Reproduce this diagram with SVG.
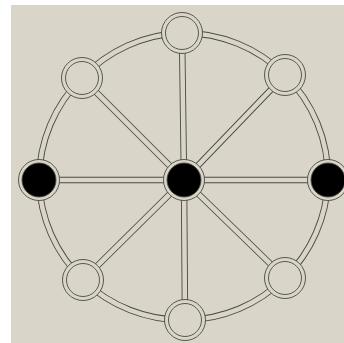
<svg xmlns="http://www.w3.org/2000/svg" width="344" height="343" viewBox="0 0 344 343">
  <style>
    .edge-out { fill: none; stroke: #4a4943; stroke-width: 6.4; stroke-linecap: butt; }
    .edge-in { fill: none; stroke: #dad5c9; stroke-width: 4.6; stroke-linecap: butt; }
    .ring { fill: #dad5c9; stroke: #4a4943; stroke-width: 0.9; }
    .inner { fill: #dad5c9; stroke: #4a4943; stroke-width: 0.9; }
    .black { fill: #000; stroke: #4a4943; stroke-width: 0.9; }
  </style>
  <rect x="0" y="0" width="344" height="343" fill="#ffffff"/>
  <rect x="11" y="5" width="333" height="338" fill="#dad5c9"/>
  <g id="connectors">
    <g class="edge-out">
      <path d="M182,33 A144,144 0 0 1 285,75 A144,144 0 0 1 328,180 A144,144 0 0 1 285,278 A144,144 0 0 1 185,320 A144,144 0 0 1 83,280 A144,144 0 0 1 39,180 A144,144 0 0 1 82,78 A144,144 0 0 1 182,33 Z"/>
      <path d="M184,180 L182,33 M184,180 L285,75 M184,180 L328,180 M184,180 L285,278 M184,180 L185,320 M184,180 L83,280 M184,180 L39,180 M184,180 L82,78"/>
    </g>
    <g class="edge-in">
      <path d="M182,33 A144,144 0 0 1 285,75 A144,144 0 0 1 328,180 A144,144 0 0 1 285,278 A144,144 0 0 1 185,320 A144,144 0 0 1 83,280 A144,144 0 0 1 39,180 A144,144 0 0 1 82,78 A144,144 0 0 1 182,33 Z"/>
      <path d="M184,180 L182,33 M184,180 L285,75 M184,180 L328,180 M184,180 L285,278 M184,180 L185,320 M184,180 L83,280 M184,180 L39,180 M184,180 L82,78"/>
    </g>
  </g>
  <g id="node-center"><circle class="ring" cx="184" cy="180" r="20.5"/><circle class="black" cx="184" cy="180" r="17"/></g>
  <g id="node-top"><circle class="ring" cx="182" cy="33" r="20.5"/><circle class="inner" cx="182" cy="33" r="16.5"/></g>
  <g id="node-top-right"><circle class="ring" cx="285" cy="75" r="20.5"/><circle class="inner" cx="285" cy="75" r="16.5"/></g>
  <g id="node-right"><circle class="ring" cx="328" cy="180" r="20.5"/><circle class="black" cx="328" cy="180" r="17"/></g>
  <g id="node-bottom-right"><circle class="ring" cx="285" cy="278" r="20.5"/><circle class="inner" cx="285" cy="278" r="16.5"/></g>
  <g id="node-bottom"><circle class="ring" cx="185" cy="320" r="20.5"/><circle class="inner" cx="185" cy="320" r="16.5"/></g>
  <g id="node-bottom-left"><circle class="ring" cx="83" cy="280" r="20.5"/><circle class="inner" cx="83" cy="280" r="16.5"/></g>
  <g id="node-left"><circle class="ring" cx="39" cy="180" r="20.5"/><circle class="black" cx="39" cy="180" r="17"/></g>
  <g id="node-top-left"><circle class="ring" cx="82" cy="78" r="20.5"/><circle class="inner" cx="82" cy="78" r="16.5"/></g>
</svg>
